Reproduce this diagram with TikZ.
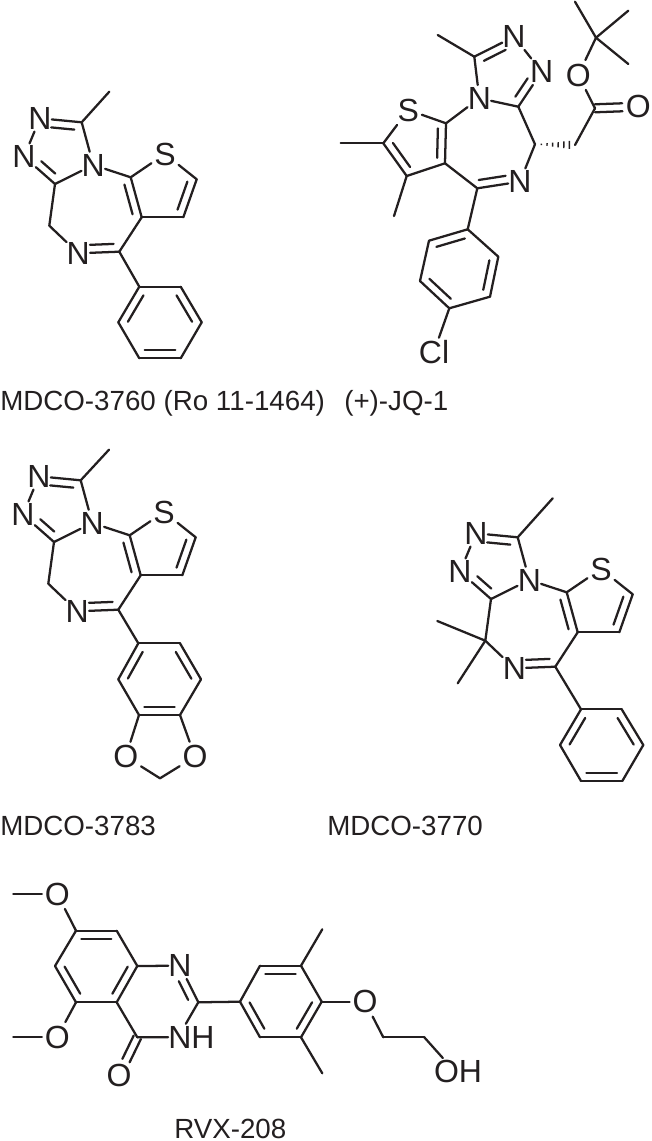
\documentclass[tikz,border=0pt]{standalone}
\usepackage{fontspec}
\setmainfont{Liberation Sans}
\usetikzlibrary{calc}
\definecolor{ink}{HTML}{231F20}
\tikzset{
  bond/.style={draw=ink,line width=1.7pt,line cap=round,line join=round},
  hash/.style={draw=ink,line width=1.1pt},
  atom/.style={rectangle,inner xsep=0pt,inner ysep=1.5pt,text=ink,font=\fontsize{24}{28}\selectfont},
  oxy/.style={atom,inner xsep=2pt,inner ysep=2.5pt},
  caption/.style={anchor=base west,inner sep=0pt,text=ink,font=\fontsize{20.8}{24}\selectfont},
}
% inner line of a double bond: a, b, signed offset, shortening at a, at b
\newcommand{\dbl}[5]{\draw[bond,shorten <=#4,shorten >=#5] ($(#1)!#3!90:(#2)$) -- ($(#2)!#3!-90:(#1)$);}
% six-membered aromatic ring from coordinates pv1..pv6 listed clockwise
\newcommand{\benz}[1]{%
  \foreach \a/\b in {1/2,2/3,3/4,4/5,5/6,6/1} \draw[bond] (#1v\a) -- (#1v\b);
  \dbl{#1v6}{#1v1}{-6pt}{4pt}{4pt}
  \dbl{#1v2}{#1v3}{-6pt}{4pt}{4pt}
  \dbl{#1v4}{#1v5}{-6pt}{4pt}{4pt}
}
% thieno-triazolo-diazepine core shared by three of the compounds
\newcommand{\core}[3]{%
  \begin{scope}[shift={(#2,#3)}]
  \coordinate (#1C3) at (81.7,122.3);
  \node[atom] (#1N2) at (40,118.3) {N};
  \node[atom] (#1N1) at (24,156.7) {N};
  \coordinate (#1Cb) at (55,184);
  \node[atom] (#1N4) at (93.3,165) {N};
  \coordinate (#1Ca) at (130.7,177.3);
  \node[oxy] (#1S) at (165,154) {S};
  \coordinate (#1Cc) at (196.7,179.3);
  \coordinate (#1Cd) at (183.3,217.3);
  \coordinate (#1Ce) at (141.7,217.3);
  \coordinate (#1Cf) at (119.3,251.7);
  \node[atom] (#1N) at (78.3,253.3) {N};
  \coordinate (#1Cg) at (49.3,225.7);
  \end{scope}
  \foreach \a/\b in {#1C3/#1N2,#1N2/#1N1,#1N1/#1Cb,#1Cb/#1N4,#1N4/#1C3,#1N4/#1Ca,#1Ca/#1S,#1S/#1Cc,#1Cc/#1Cd,#1Cd/#1Ce,#1Ce/#1Ca,#1Ce/#1Cf,#1Cf/#1N,#1N/#1Cg,#1Cg/#1Cb}
    \draw[bond] (\a) -- (\b);
  \dbl{#1C3}{#1N2}{6pt}{5pt}{9pt}
  \dbl{#1Cb}{#1N1}{-6pt}{5pt}{12pt}
  \dbl{#1Ca}{#1Ce}{-6pt}{4pt}{4pt}
  \dbl{#1Cc}{#1Cd}{-6pt}{4pt}{4pt}
  \dbl{#1Cf}{#1N}{-6pt}{4pt}{9pt}
}
\begin{document}
\begin{tikzpicture}[x=0.75pt,y=-0.75pt]
\useasboundingbox (0,0) rectangle (651,1141);

% MDCO-3760
\core{a}{0}{0}
\coordinate (aMe) at (109.3,91.7);
\draw[bond] (aC3) -- (aMe);
\coordinate (av1) at (139.3,286.7);
\coordinate (av2) at (180.7,286.7);
\coordinate (av3) at (201.7,322.3);
\coordinate (av4) at (180.7,358.3);
\coordinate (av5) at (139.3,358.3);
\coordinate (av6) at (118.3,322.3);
\benz{a}
\draw[bond] (aCf) -- (av1);
\node[caption] (capa) at (0,410) {MDCO-3760 (Ro 11-1464)};

% (+)-JQ-1
\coordinate (jCq) at (596,37.7);
\coordinate (jM1) at (575,1.7);
\coordinate (jM2) at (628.3,10.7);
\coordinate (jM3) at (628.3,64);
\node[oxy] (jOe) at (578.3,75) {O};
\coordinate (jCo) at (595,108.3);
\node[oxy] (jOd) at (638.3,106.7) {O};
\coordinate (jCH) at (575,145);
\coordinate (jSt) at (535,144.3);
\coordinate (jCb) at (518.3,106.7);
\node[atom] (jN1) at (541.7,71.7) {N};
\node[atom] (jN2) at (514,36.7) {N};
\coordinate (jC3) at (474.3,56.7);
\coordinate (jMe) at (437.7,35);
\node[atom] (jN4) at (479.3,98.3) {N};
\coordinate (jCa) at (446,123.3);
\node[oxy] (jS) at (408.3,110) {S};
\coordinate (jCc) at (383.3,143.3);
\coordinate (jMc) at (340.7,143.3);
\coordinate (jCd) at (406.7,176);
\coordinate (jMd) at (394,216);
\coordinate (jCe) at (445,163.3);
\coordinate (jCf) at (477.3,188.3);
\node[atom] (jN) at (520,181.7) {N};
\coordinate (jv1) at (467.7,229.3);
\coordinate (jv2) at (498.3,256.7);
\coordinate (jv3) at (490,296.7);
\coordinate (jv4) at (449.3,308.3);
\coordinate (jv5) at (420,281);
\coordinate (jv6) at (429,240.7);
\node[atom] (jCl) at (434,351.7) {Cl};
\foreach \a/\b in {jCq/jM1,jCq/jM2,jCq/jM3,jCq/jOe,jOe/jCo,jCo/jCH,jSt/jCb,jSt/jN,jCb/jN1,jN1/jN2,jN2/jC3,jC3/jMe,jC3/jN4,jN4/jCb,jN4/jCa,jCa/jS,jS/jCc,jCc/jMc,jCc/jCd,jCd/jMd,jCd/jCe,jCe/jCa,jCe/jCf,jCf/jN,jCf/jv1,jv4/jCl}
  \draw[bond] (\a) -- (\b);
\dbl{jCo}{jOd}{3pt}{0pt}{12pt}
\dbl{jCo}{jOd}{-3pt}{0pt}{12pt}
\dbl{jC3}{jN2}{-6pt}{5pt}{10pt}
\dbl{jCb}{jN1}{6pt}{5pt}{10pt}
\dbl{jCa}{jCe}{-6pt}{4pt}{4pt}
\dbl{jCc}{jCd}{6pt}{4pt}{4pt}
\dbl{jCf}{jN}{6pt}{2pt}{10pt}
\benz{j}
\foreach \t/\h in {.16/.5pt,.30/1pt,.44/1.5pt,.58/2pt,.72/2.5pt,.86/3pt}
  \draw[hash] ($(jSt)!\t!(jCH)!\h!90:(jCH)$) -- ($(jSt)!\t!(jCH)!\h!-90:(jCH)$);
\node[caption] (capj) at (344,410) {(+)-JQ-1};

% MDCO-3783
\core{b}{-1}{358}
\coordinate (bMe) at (109,449.7);
\draw[bond] (bC3) -- (bMe);
\coordinate (bv1) at (138.3,643.3);
\coordinate (bv2) at (180,643.3);
\coordinate (bv3) at (201,679.3);
\coordinate (bv4) at (180,715);
\coordinate (bv5) at (139,715);
\coordinate (bv6) at (118.3,679.3);
\benz{b}
\draw[bond] (bCf) -- (bv1);
\node[oxy] (bO1) at (125.7,756.7) {O};
\node[oxy] (bO2) at (195,756.7) {O};
\coordinate (bCm) at (160,778.3);
\foreach \a/\b in {bv5/bO1,bv4/bO2,bO1/bCm,bO2/bCm}
  \draw[bond] (\a) -- (\b);
\node[caption] (capb) at (0,835) {MDCO-3783};

% MDCO-3770
\core{c}{436}{415}
\coordinate (cMe) at (552.7,498.3);
\draw[bond] (cC3) -- (cMe);
\coordinate (cM1) at (437.3,621);
\coordinate (cM2) at (457.7,683.3);
\draw[bond] (cCg) -- (cM1);
\draw[bond] (cCg) -- (cM2);
\coordinate (cv1) at (581,709.3);
\coordinate (cv2) at (621.7,709.3);
\coordinate (cv3) at (643.3,745);
\coordinate (cv4) at (622.3,781);
\coordinate (cv5) at (581,781);
\coordinate (cv6) at (560,745);
\benz{c}
\draw[bond] (cCf) -- (cv1);
\node[caption] (capc) at (327,835) {MDCO-3770};

% RVX-208
\coordinate (rM7) at (13.3,894);
\node[oxy] (rO7) at (57.3,894) {O};
\coordinate (rC7) at (76,930.7);
\coordinate (rC8) at (116.7,930.7);
\coordinate (rC8a) at (137.3,966);
\coordinate (rC4a) at (116.7,1002.3);
\coordinate (rC5) at (76,1002.3);
\coordinate (rC6) at (55,966);
\node[oxy] (rO5) at (57.3,1037) {O};
\coordinate (rM5) at (13.3,1037);
\coordinate (rC4) at (137.3,1037.3);
\node[oxy] (rO4) at (119,1075) {O};
\node[atom] (rNH) at (191.5,1037) {NH};
\node[atom] (rN1) at (180,965.7) {N};
\coordinate (rC2) at (198.3,1002.3);
\coordinate (rC1p) at (240,1001.7);
\coordinate (rC2p) at (260,965.7);
\coordinate (rC3p) at (301,965.7);
\coordinate (rC4p) at (321.7,1001.7);
\coordinate (rC5p) at (301,1037.3);
\coordinate (rC6p) at (260,1037.3);
\coordinate (rM3) at (322.3,929.3);
\coordinate (rM5p) at (322.3,1073.3);
\node[oxy] (rOe) at (365,1001.7) {O};
\coordinate (rCx) at (383.3,1037.3);
\coordinate (rCy) at (424.3,1037.3);
\node[atom] (rOH) at (458,1071.7) {OH};
\foreach \a/\b in {rM7/rO7,rO7/rC7,rC7/rC8,rC8/rC8a,rC8a/rC4a,rC4a/rC5,rC5/rC6,rC6/rC7,rC5/rO5,rO5/rM5,rC4a/rC4,rC4/rNH,rC8a/rN1,rN1/rC2,rC2/rC1p,rC1p/rC2p,rC2p/rC3p,rC3p/rC4p,rC4p/rC5p,rC5p/rC6p,rC6p/rC1p,rC3p/rM3,rC5p/rM5p,rC4p/rOe,rOe/rCx,rCx/rCy}
  \draw[bond] (\a) -- (\b);
\draw[bond] (rC2) -- (rNH.113);
\draw[bond] (rCy) -- (rOH.138);
\dbl{rC4}{rO4}{3pt}{0pt}{12pt}
\dbl{rC4}{rO4}{-3pt}{0pt}{12pt}
\dbl{rC7}{rC8}{-6pt}{4pt}{4pt}
\dbl{rC8a}{rC4a}{-6pt}{4pt}{4pt}
\dbl{rC5}{rC6}{-6pt}{4pt}{4pt}
\dbl{rC2}{rN1}{6pt}{5pt}{10pt}
\dbl{rC2p}{rC3p}{-6pt}{4pt}{4pt}
\dbl{rC4p}{rC5p}{-6pt}{4pt}{4pt}
\dbl{rC6p}{rC1p}{-6pt}{4pt}{4pt}
\node[caption] (capr) at (174,1138) {RVX-208};
\end{tikzpicture}
\end{document}
